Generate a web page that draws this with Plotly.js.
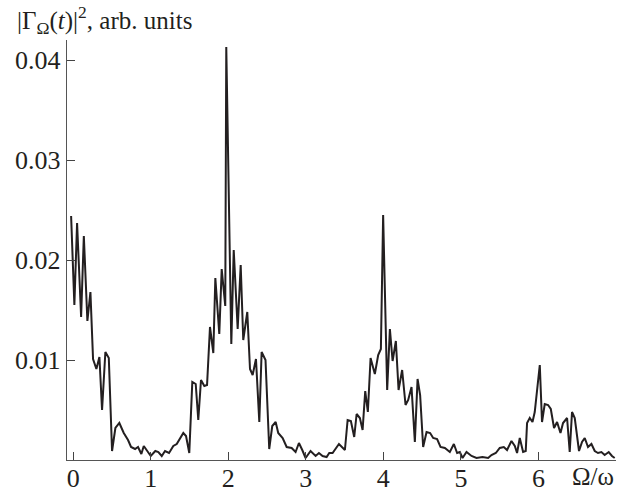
<!DOCTYPE html>
<html>
<head>
<meta charset="utf-8">
<script src="https://cdn.plot.ly/plotly-3.0.1.min.js"></script>
<style>
  html, body { margin: 0; padding: 0; background: #fff; }
  #chart { width: 629px; height: 495px; }
</style>
</head>
<body>
<div id="chart"></div>
<script>
// Spectrum |Γ_Ω(t)|² versus Ω/ω
const freqRatio = [
  -0.027, 0.015, 0.050, 0.102, 0.137, 0.183, 0.222, 0.256, 0.299, 0.338,
  0.372, 0.415, 0.459, 0.501, 0.544, 0.595, 0.652, 0.707, 0.746, 0.798,
  0.836, 0.879, 0.910, 0.965, 1.000, 1.059, 1.098, 1.142, 1.184, 1.236,
  1.291, 1.335, 1.378, 1.420, 1.455, 1.497, 1.536, 1.580, 1.613, 1.648,
  1.691, 1.726, 1.764, 1.807, 1.833, 1.884, 1.915, 1.961, 1.974, 2.039,
  2.070, 2.121, 2.160, 2.193, 2.245, 2.280, 2.314, 2.357, 2.400, 2.430,
  2.480, 2.528, 2.567, 2.611, 2.644, 2.701, 2.753, 2.817, 2.868, 2.911,
  2.954, 2.997, 3.061, 3.126, 3.169, 3.216, 3.268, 3.302, 3.345, 3.427,
  3.504, 3.539, 3.581, 3.624, 3.655, 3.697, 3.732, 3.766, 3.800, 3.835,
  3.890, 3.933, 3.968, 3.997, 4.049, 4.084, 4.119, 4.161, 4.196, 4.242,
  4.286, 4.320, 4.363, 4.406, 4.441, 4.474, 4.513, 4.557, 4.603, 4.642,
  4.693, 4.737, 4.793, 4.857, 4.909, 4.951, 4.986, 5.021, 5.072, 5.137,
  5.201, 5.278, 5.351, 5.394, 5.450, 5.501, 5.553, 5.595, 5.652, 5.695,
  5.724, 5.759, 5.802, 5.836, 5.853, 5.888, 5.923, 5.952, 6.017, 6.046,
  6.081, 6.124, 6.159, 6.201, 6.240, 6.284, 6.317, 6.369, 6.403, 6.433,
  6.468, 6.523, 6.562, 6.597, 6.639, 6.683, 6.726, 6.768, 6.812, 6.854,
  6.906, 6.948, 6.983
];

const intensity = [
  0.0244, 0.0155, 0.0237, 0.0143, 0.0224, 0.0139, 0.0168, 0.0101, 0.0091, 0.0103,
  0.0050, 0.0108, 0.0102, 0.0009, 0.0032, 0.0037, 0.0027, 0.0020, 0.0013, 0.0011,
  0.0013, 0.0006, 0.0014, 0.0008, 0.0004, 0.0009, 0.0008, 0.0004, 0.0009, 0.0007,
  0.0014, 0.0016, 0.0022, 0.0027, 0.0024, 0.0007, 0.0078, 0.0076, 0.0040, 0.0080,
  0.0074, 0.0075, 0.0133, 0.0107, 0.0182, 0.0126, 0.0191, 0.0154, 0.0413, 0.0116,
  0.0210, 0.0131, 0.0195, 0.0120, 0.0148, 0.0091, 0.0085, 0.0101, 0.0038, 0.0108,
  0.0100, 0.0011, 0.0034, 0.0038, 0.0027, 0.0022, 0.0013, 0.0012, 0.0008, 0.0017,
  0.0010, 0.0002, 0.0009, 0.0004, 0.0007, 0.0004, 0.0003, 0.0007, 0.0007, 0.0016,
  0.0010, 0.0040, 0.0039, 0.0023, 0.0046, 0.0042, 0.0030, 0.0069, 0.0048, 0.0102,
  0.0086, 0.0105, 0.0111, 0.0245, 0.0070, 0.0131, 0.0099, 0.0119, 0.0070, 0.0090,
  0.0055, 0.0060, 0.0073, 0.0018, 0.0081, 0.0065, 0.0013, 0.0028, 0.0027, 0.0022,
  0.0021, 0.0013, 0.0012, 0.0008, 0.0016, 0.0007, 0.0008, 0.0002, 0.0008, 0.0004,
  0.0002, 0.0003, 0.0002, 0.0005, 0.0007, 0.0012, 0.0013, 0.0010, 0.0019, 0.0014,
  0.0007, 0.0022, 0.0008, 0.0009, 0.0037, 0.0042, 0.0038, 0.0048, 0.0095, 0.0038,
  0.0056, 0.0055, 0.0051, 0.0032, 0.0038, 0.0027, 0.0037, 0.0042, 0.0008, 0.0048,
  0.0042, 0.0009, 0.0018, 0.0022, 0.0013, 0.0016, 0.0009, 0.0007, 0.0008, 0.0005,
  0.0008, 0.0004, 0.0002
];

const xTickVals = [0, 1, 2, 3, 4, 5, 6];
const xTickText = ['0', '1', '2', '3', '4', '5', '6'];
const yTickVals = [0.01, 0.02, 0.03, 0.04];
const yTickText = ['0.01', '0.02', '0.03', '0.04'];

const serif = 'Liberation Serif, Times New Roman, serif';
const ink = '#231f20';

const trace = {
  x: freqRatio,
  y: intensity,
  type: 'scatter',
  mode: 'lines',
  line: { color: ink, width: 2 },
  hoverinfo: 'skip'
};

const layout = {
  width: 629,
  height: 495,
  margin: { l: 67, r: 13, t: 40, b: 35 },
  paper_bgcolor: '#fff',
  plot_bgcolor: '#fff',
  showlegend: false,
  font: { family: serif, color: ink, size: 26 },
  xaxis: {
    range: [-0.08, 7.0],
    tickvals: xTickVals,
    ticktext: xTickText,
    ticks: 'inside',
    ticklen: 8,
    tickwidth: 1,
    tickcolor: '#444',
    ticklabelstandoff: -6,
    showline: true,
    linecolor: '#555',
    linewidth: 1.3,
    showgrid: false,
    zeroline: false,
    tickfont: { family: serif, size: 26, color: ink }
  },
  yaxis: {
    range: [0, 0.042],
    tickvals: yTickVals,
    ticktext: yTickText,
    ticks: 'inside',
    ticklen: 8,
    tickwidth: 1,
    tickcolor: '#444',
    showline: true,
    linecolor: '#555',
    linewidth: 1.3,
    showgrid: false,
    zeroline: false,
    tickfont: { family: serif, size: 26, color: ink }
  },
  annotations: [
    {
      text: '|Γ<sub>Ω</sub>(<i>t</i>)|<sup>2</sup>, arb. units',
      xref: 'paper', yref: 'paper',
      x: -0.095, y: 1.0,
      xanchor: 'left', yanchor: 'bottom',
      yshift: 0,
      showarrow: false,
      font: { family: serif, size: 25, color: ink }
    },
    {
      text: 'Ω/ω',
      xref: 'paper', yref: 'paper',
      x: 1.0, y: 0,
      xanchor: 'right', yanchor: 'top',
      yshift: -1,
      showarrow: false,
      font: { family: serif, size: 25, color: ink }
    }
  ]
};

Plotly.newPlot('chart', [trace], layout, { staticPlot: true, displayModeBar: false });
</script>
</body>
</html>
